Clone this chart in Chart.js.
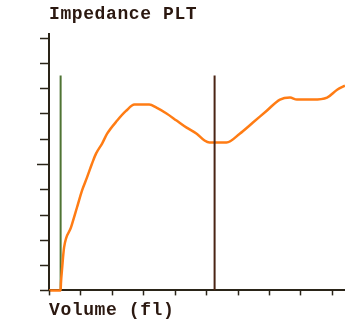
<!DOCTYPE html>
<html>
<head>
<meta charset="utf-8">
<script src="https://cdn.jsdelivr.net/npm/chart.js@4.4.1/dist/chart.umd.min.js"></script>
<style>
  html, body { margin: 0; padding: 0; background: #ffffff; }
  #wrap { width: 345px; height: 328px; }
</style>
</head>
<body>
<div id="wrap"><canvas id="c" width="345" height="328"></canvas></div>
<script>
// Volume axis positions (arbitrary units, one tick per unit) and impedance curve heights (% of full scale)
const volume = [0, 0.37, 0.38, 0.42, 0.48, 0.70, 0.89, 1.05, 1.21, 1.37, 1.50, 1.69, 1.85, 2.17, 2.45, 2.72, 3.19, 3.42, 3.74, 4.06, 4.38, 4.70, 4.95, 5.11, 5.65, 6.07, 6.49, 6.93, 7.35, 7.67, 7.89, 8.40, 8.85, 9.17, 9.42];
const impedance = [0, 0, 2.8, 9.1, 17, 24.9, 32.8, 39.5, 44.7, 50.2, 54.2, 58.1, 62, 67.2, 71, 73.5, 73.5, 72.3, 70, 67.2, 64.4, 62, 59.3, 58.5, 58.5, 62, 66.4, 71.1, 75.5, 76.3, 75.5, 75.5, 76.3, 79.4, 81];
// Discriminator lines
const lowerDisc = 0.37;
const upperDisc = 5.27;
const discHeight = 85;
// Axis ranges / ticks
const xMax = 9.42;
const xStep = 1;
const yMax = 101.6;
const yStep = 10;
const yMajorTick = 50;
const titleText = "Impedance PLT";
const xTitle = "Volume (fl)";

const curve = volume.map((v, i) => ({ x: v, y: impedance[i] }));

const spacingPlugin = {
  id: 'letterSpacing',
  beforeDraw(chart) { chart.ctx.letterSpacing = '0.6px'; }
};

const tickPlugin = {
  id: 'tickMarks',
  afterDraw(chart) {
    const ctx = chart.ctx;
    const xs = chart.scales.x, ys = chart.scales.y;
    const area = chart.chartArea;
    ctx.save();
    ctx.strokeStyle = '#2a2418';
    ctx.lineWidth = 1.5;
    for (let v = 0; v <= 100 + 1e-6; v += yStep) {
      const py = Math.round(ys.getPixelForValue(v)) + 0.5;
      const len = (Math.abs(v - yMajorTick) < 1e-6) ? 12 : 9;
      ctx.beginPath();
      ctx.moveTo(area.left - len, py);
      ctx.lineTo(area.left, py);
      ctx.stroke();
    }
    for (let v = 0; v <= xMax + 1e-6; v += xStep) {
      const px = Math.round(xs.getPixelForValue(v)) + 0.5;
      ctx.beginPath();
      ctx.moveTo(px, area.bottom);
      ctx.lineTo(px, area.bottom + 5);
      ctx.stroke();
    }
    ctx.restore();
  }
};

new Chart(document.getElementById('c'), {
  type: 'scatter',
  data: {
    datasets: [
      {
        data: curve,
        showLine: true,
        borderColor: '#ff7c14',
        borderWidth: 2.5,
        pointRadius: 0,
        tension: 0.3,
        cubicInterpolationMode: 'monotone',
        clip: false,
        order: 1
      },
      {
        data: [{ x: lowerDisc, y: 0 }, { x: lowerDisc, y: discHeight }],
        showLine: true,
        borderColor: '#4f7434',
        borderWidth: 2,
        pointRadius: 0,
        order: 2
      },
      {
        data: [{ x: upperDisc, y: 0 }, { x: upperDisc, y: discHeight }],
        showLine: true,
        borderColor: '#4a2414',
        borderWidth: 2,
        pointRadius: 0,
        order: 0
      }
    ]
  },
  options: {
    responsive: false,
    animation: false,
    devicePixelRatio: 1,
    layout: { padding: { left: 41, right: 0, top: 0, bottom: 0 } },
    plugins: {
      legend: { display: false },
      tooltip: { enabled: false },
      title: {
        display: true,
        text: titleText,
        align: 'start',
        fullSize: false,
        color: '#2b1810',
        font: { family: '"Liberation Mono", "Courier New", monospace', size: 18, weight: 'bold' },
        padding: { top: 4, bottom: 8 }
      }
    },
    scales: {
      x: {
        type: 'linear',
        min: 0,
        max: xMax,
        ticks: { display: false, stepSize: xStep },
        grid: { display: false },
        border: { display: true, color: '#2a2418', width: 2 },
        title: {
          display: true,
          text: xTitle,
          align: 'start',
          color: '#2b1810',
          font: { family: '"Liberation Mono", "Courier New", monospace', size: 18, weight: 'bold' },
          padding: { top: 1, bottom: 7 }
        }
      },
      y: {
        type: 'linear',
        min: 0,
        max: yMax,
        ticks: { display: false, stepSize: yStep },
        grid: { display: false },
        border: { display: true, color: '#2a2418', width: 2 }
      }
    }
  },
  plugins: [spacingPlugin, tickPlugin]
});
</script>
</body>
</html>
